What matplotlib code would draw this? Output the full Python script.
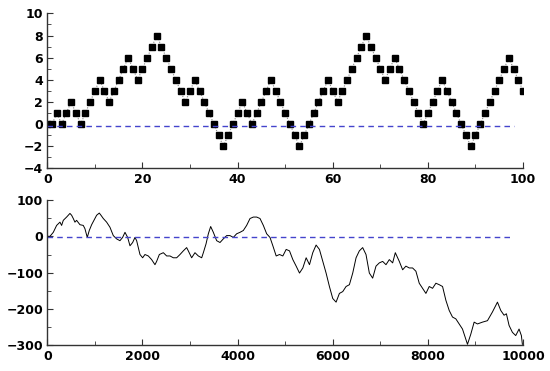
import numpy as np
import matplotlib.pyplot as plt
from matplotlib.ticker import MultipleLocator

# short walk, 101 points
walk_short = [0, 0, 1, 0, 1, 2, 1, 0, 1, 2, 3, 4, 3, 2, 3, 4, 5, 6, 5, 4,
              5, 6, 7, 8, 7, 6, 5, 4, 3, 2, 3, 4, 3, 2, 1, 0, -1, -2, -1, 0,
              1, 2, 1, 0, 1, 2, 3, 4, 3, 2, 1, 0, -1, -2, -1, 0, 1, 2, 3, 4,
              3, 2, 3, 4, 5, 6, 7, 8, 7, 6, 5, 4, 5, 6, 5, 4, 3, 2, 1, 0,
              1, 2, 3, 4, 3, 2, 1, 0, -1, -2, -1, 0, 1, 2, 3, 4, 5, 6, 5, 4, 3]

# long walk, sampled from the bottom panel
long_steps = [0, 56, 126, 196, 266, 301, 336, 406, 476, 511, 546, 581, 616, 686, 756, 791,
              840, 882, 932, 1002, 1037, 1093, 1128, 1177, 1247, 1317, 1387, 1457, 1527, 1583,
              1633, 1689, 1738, 1794, 1843, 1878, 1948, 2004, 2053, 2123, 2193, 2263, 2298, 2355,
              2439, 2509, 2579, 2649, 2719, 2789, 2859, 2929, 2964, 3034, 3104, 3174, 3245, 3280,
              3336, 3385, 3434, 3490, 3560, 3630, 3700, 3770, 3840, 3910, 3980, 4050, 4120, 4190,
              4261, 4331, 4401, 4471, 4541, 4611, 4681, 4741, 4811, 4881, 4951, 5021, 5091, 5161,
              5231, 5301, 5371, 5441, 5511, 5580, 5650, 5720, 5790, 5860, 5930, 6000, 6070, 6140,
              6210, 6280, 6350, 6420, 6490, 6559, 6629, 6699, 6769, 6839, 6909, 6979, 7049, 7119,
              7189, 7259, 7315, 7399, 7469, 7538, 7608, 7678, 7748, 7818, 7888, 7958, 8028, 8098,
              8168, 8238, 8308, 8378, 8448, 8517, 8587, 8657, 8727, 8832, 8902, 8972, 9042, 9147,
              9252, 9357, 9462, 9532, 9601, 9650, 9706, 9776, 9846, 9916, 9965, 9986]
long_vals = [0, 0, 11, 30, 39, 30, 44, 53, 63, 58, 49, 39, 44, 32, 30, 21,
             -3, 16, 32, 49, 58, 64, 58, 49, 39, 25, 2, -7, -12, -3,
             11, -3, -26, -17, -3, -12, -50, -59, -50, -54, -64, -78, -69, -50,
             -45, -54, -54, -59, -59, -50, -40, -31, -40, -59, -45, -54, -59, -45,
             -21, 7, 27, 11, -12, -17, -7, 2, 2, -3, 7, 11, 16, 30,
             49, 53, 53, 49, 30, 7, -3, -26, -54, -50, -54, -36, -40, -64,
             -82, -101, -87, -59, -78, -45, -24, -36, -69, -101, -138, -171, -181, -157,
             -152, -138, -133, -101, -59, -40, -31, -50, -101, -115, -82, -73, -69, -78,
             -64, -73, -45, -69, -92, -82, -87, -87, -96, -129, -143, -157, -138, -143,
             -129, -133, -138, -176, -204, -222, -227, -241, -255, -297, -269, -236, -241, -236,
             -232, -208, -181, -204, -217, -213, -245, -264, -273, -255, -273, -297]

plt.rcParams['font.family'] = 'DejaVu Sans'
plt.rcParams['font.weight'] = 'bold'

fig = plt.figure(figsize=(5.5, 3.71), dpi=100)
ax1 = fig.add_axes([0.086, 0.546, 0.865, 0.418])
ax2 = fig.add_axes([0.086, 0.069, 0.865, 0.392])

def style(ax):
    for s in ['top', 'right']:
        ax.spines[s].set_visible(False)
    for s in ['left', 'bottom']:
        ax.spines[s].set_color('#333333')
        ax.spines[s].set_linewidth(1.0)
    ax.tick_params(which='both', direction='in', color='#333333', labelsize=9, pad=3)
    ax.tick_params(which='major', length=4)
    ax.tick_params(which='minor', length=3)

# top panel
n = np.arange(len(walk_short))
ax1.plot(n, walk_short, color='#888888', ls=':', lw=0.8, marker='s', ms=4.2,
         mfc='black', mec='black')
ax1.plot([0, 98], [-0.2, -0.2], color='#4444cc', ls='--', lw=1.0, dashes=(4, 3))
ax1.set_xlim(0, 100)
ax1.set_ylim(-4, 10)
ax1.xaxis.set_major_locator(MultipleLocator(20))
ax1.xaxis.set_minor_locator(MultipleLocator(10))
ax1.yaxis.set_major_locator(MultipleLocator(2))
ax1.yaxis.set_minor_locator(MultipleLocator(1))
style(ax1)

# bottom panel
ax2.plot(long_steps, long_vals, color='black', lw=0.7)
ax2.plot([0, 9750], [-3, -3], color='#4444cc', ls='--', lw=1.0, dashes=(4, 3))
ax2.set_xlim(0, 10000)
ax2.set_ylim(-300, 100)
ax2.xaxis.set_major_locator(MultipleLocator(2000))
ax2.xaxis.set_minor_locator(MultipleLocator(1000))
ax2.yaxis.set_major_locator(MultipleLocator(100))
ax2.yaxis.set_minor_locator(MultipleLocator(50))
style(ax2)

for ax in (ax1, ax2):
    for lbl in ax.get_xticklabels() + ax.get_yticklabels():
        lbl.set_fontweight('bold')

fig.savefig('out.png', dpi=100)
